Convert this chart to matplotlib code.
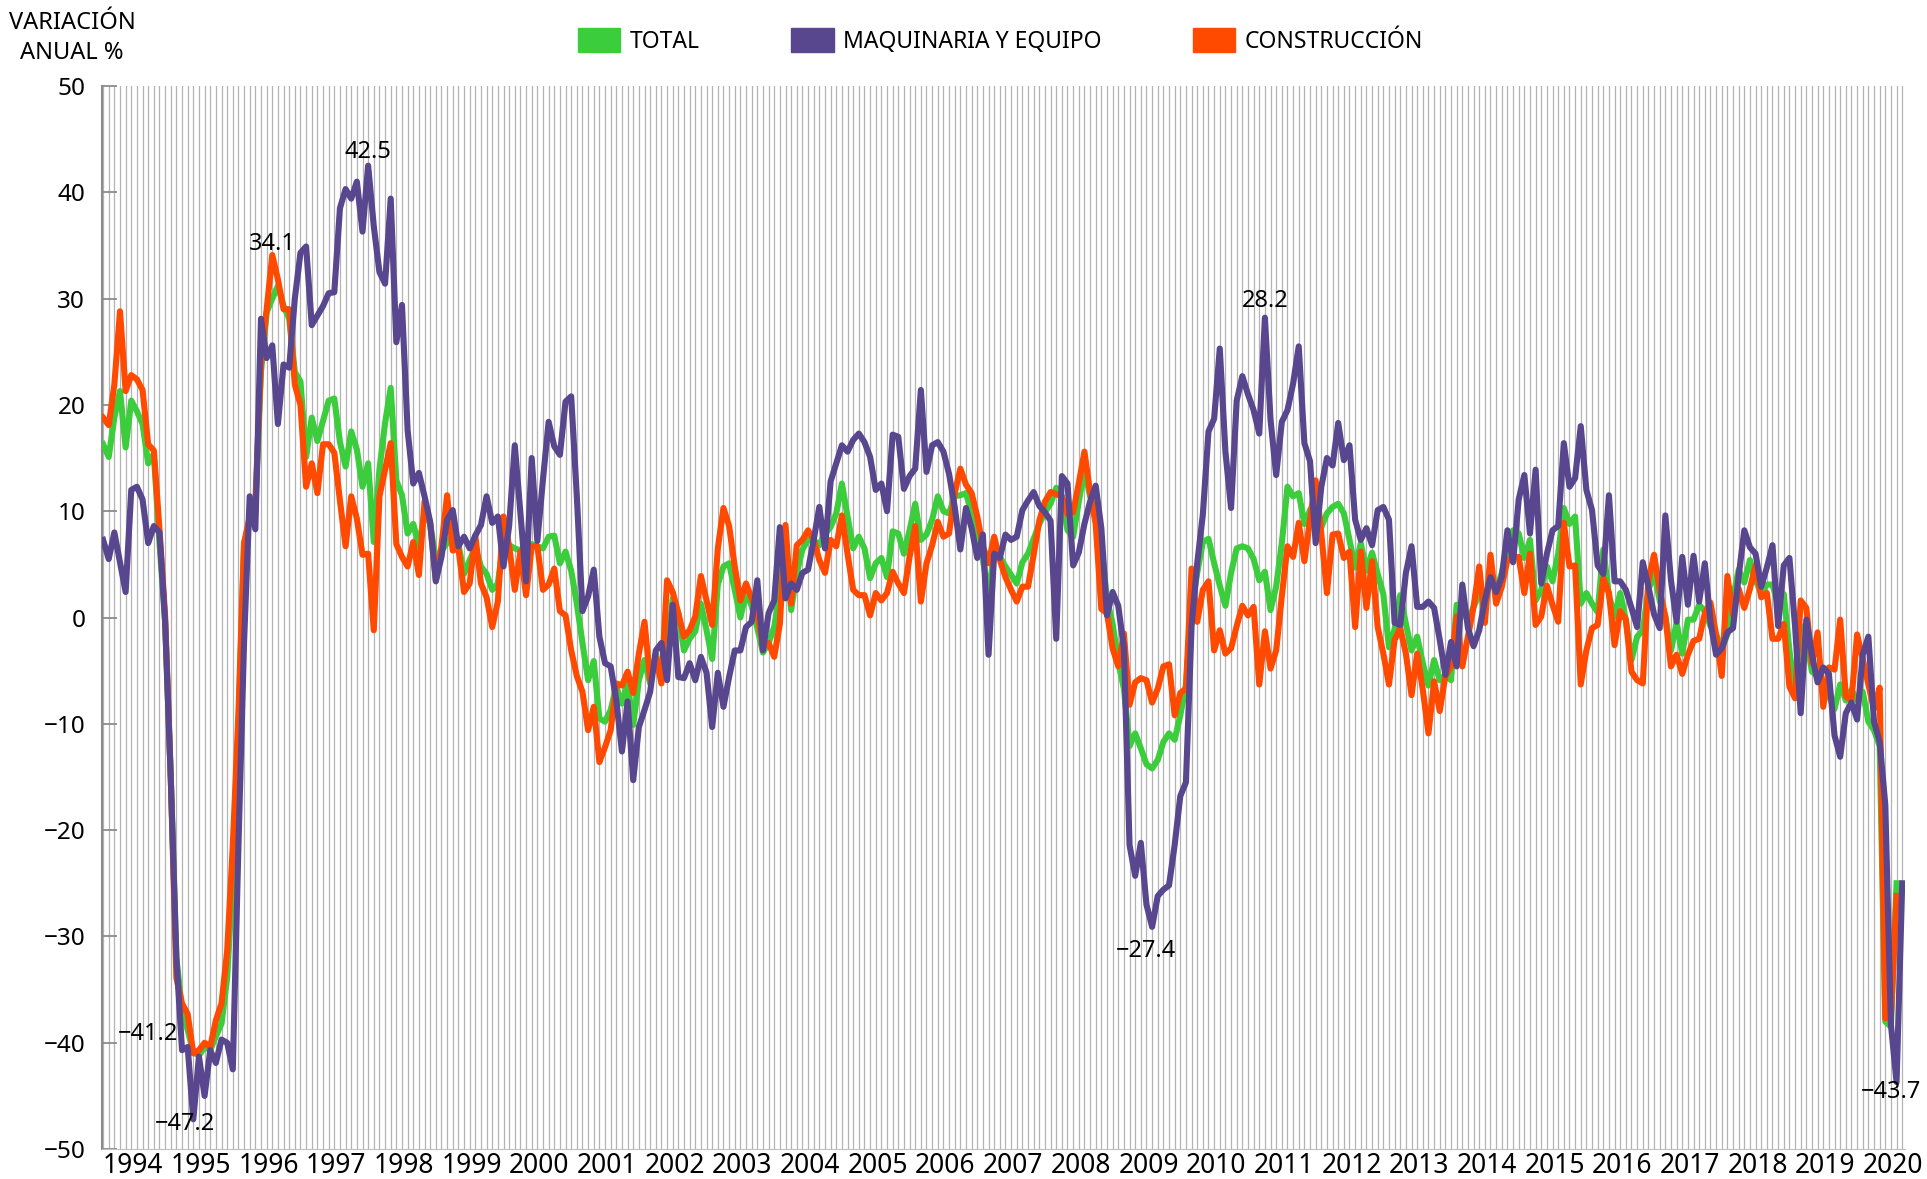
import numpy as np
import matplotlib.pyplot as plt
from matplotlib.patches import Patch

# monthly annual % change, Jan 1994 onwards (one row per year)
years = list(range(1994, 2021))

total = [
    16.3, 15.1, 18.8, 21.3, 16.0, 20.4, 19.4, 18.2, 14.5, 15.4, 7.0, -0.4,
    -15.0, -32.0, -37.0, -38.8, -40.9, -41.2, -40.4, -40.7, -39.4, -38.2, -33.9, -24.6,
    -10.3, 7.0, 8.9, 10.1, 23.1, 28.7, 30.0, 31.2, 29.3, 28.1, 23.1, 22.2,
    15.1, 18.8, 16.6, 18.5, 20.4, 20.6, 16.5, 14.2, 17.5, 15.8, 12.3, 14.5,
    7.1, 13.9, 18.3, 21.6, 12.9, 11.5, 7.9, 8.8, 6.7, 9.8, 8.8, 5.4,
    6.3, 7.0, 7.7, 6.9, 4.1, 5.4, 6.6, 4.8, 4.1, 2.6, 3.2, 7.3,
    6.8, 6.5, 6.3, 6.9, 6.9, 6.7, 6.5, 7.6, 7.7, 5.1, 6.2, 4.4,
    1.3, -2.4, -5.9, -4.1, -9.5, -9.8, -8.7, -6.5, -8.1, -6.2, -10.1, -5.9,
    -4.0, -6.2, -3.4, -5.6, -3.1, 1.8, 0.4, -3.1, -2.0, -1.3, 1.3, -1.2,
    -3.9, 3.1, 4.8, 5.1, 2.6, 0.0, 2.3, 1.1, -1.0, -3.3, -2.4, -0.9,
    2.6, 7.0, 0.7, 4.2, 6.4, 7.3, 7.3, 6.8, 7.9, 8.5, 9.8, 12.6,
    9.5, 6.5, 7.6, 6.5, 3.7, 5.1, 5.6, 3.8, 8.1, 7.9, 6.0, 8.2,
    10.7, 7.3, 7.8, 9.2, 11.4, 10.0, 9.8, 11.4, 11.5, 11.7, 9.8, 7.9,
    5.4, 2.3, 5.9, 5.7, 4.8, 4.0, 3.2, 5.2, 6.0, 7.4, 8.8, 9.9,
    10.7, 12.2, 11.4, 8.2, 7.6, 10.9, 13.9, 11.4, 10.1, 6.8, 1.7, -0.6,
    -4.2, -6.7, -12.1, -10.9, -12.3, -13.8, -14.2, -13.4, -11.7, -10.9, -11.5, -9.2,
    -6.3, 0.8, 4.2, 7.1, 7.4, 5.1, 3.0, 1.1, 4.2, 6.5, 6.7, 6.5,
    5.5, 3.5, 4.3, 0.7, 2.9, 7.0, 12.3, 11.4, 11.7, 8.8, 10.1, 11.0,
    8.5, 9.8, 10.4, 10.7, 9.8, 7.3, 4.7, 7.0, 4.4, 6.1, 4.1, 2.2,
    -2.8, -1.1, 2.1, -0.6, -3.1, -1.8, -4.3, -6.4, -4.0, -5.9, -5.4, -5.9,
    1.2, 0.9, -0.4, 1.0, 2.2, 1.5, 3.5, 2.6, 4.2, 6.4, 8.2, 7.9,
    5.6, 7.3, 1.6, 2.6, 4.8, 3.4, 6.0, 10.3, 8.8, 9.5, 1.3, 2.3,
    1.3, 0.5, 6.4, 2.1, 0.1, 2.3, -0.2, -4.0, -1.8, -1.2, 2.6, 4.2,
    1.6, 0.1, -3.1, -0.5, -3.4, -0.2, -0.2, 1.2, 0.6, -0.8, -1.6, -2.9,
    -1.6, 1.9, 4.5, 3.3, 5.4, 3.5, 2.3, 3.1, 3.1, 1.2, 2.2, -3.1,
    -7.0, -0.8, -2.0, -5.1, -5.5, -6.5, -7.4, -8.6, -6.3, -7.8, -6.8, -7.8,
    -7.0, -9.8, -10.6, -12.1, -38.0, -38.5, -25.0, np.nan,
]

maquinaria = [
    7.3, 5.5, 8.0, 5.2, 2.4, 12.0, 12.3, 11.1, 7.0, 8.6, 8.0, -0.4,
    -15.0, -32.0, -40.7, -40.4, -47.2, -41.3, -45.0, -40.7, -41.9, -39.7, -40.0, -42.5,
    -21.5, -2.3, 11.4, 8.3, 28.1, 24.4, 25.6, 18.2, 23.8, 23.5, 30.0, 34.3,
    34.9, 27.5, 28.4, 29.3, 30.5, 30.6, 38.5, 40.3, 39.4, 41.0, 36.3, 42.5,
    36.8, 32.5, 31.4, 39.4, 25.9, 29.4, 17.6, 12.6, 13.6, 11.4, 9.0, 3.4,
    5.7, 9.2, 10.1, 6.7, 7.6, 6.5, 7.7, 8.7, 11.4, 8.9, 9.5, 4.8,
    8.6, 16.2, 9.8, 3.4, 15.0, 7.2, 13.0, 18.4, 16.1, 15.3, 20.3, 20.8,
    11.4, 0.6, 2.0, 4.5, -1.8, -4.3, -4.6, -7.8, -12.6, -7.9, -15.3, -10.3,
    -8.7, -7.0, -3.1, -2.4, -5.9, 1.2, -5.6, -5.7, -4.3, -5.9, -3.7, -5.2,
    -10.3, -5.2, -8.4, -5.6, -3.1, -3.1, -0.9, -0.4, 3.5, -3.1, 0.4, 1.6,
    8.5, 1.8, 3.2, 2.6, 4.2, 4.5, 7.3, 10.4, 6.5, 12.8, 14.5, 16.2,
    15.6, 16.7, 17.3, 16.5, 15.1, 12.0, 12.6, 10.0, 17.2, 17.0, 12.1, 13.3,
    14.0, 21.4, 13.7, 16.2, 16.5, 15.6, 13.5, 10.4, 6.4, 10.3, 8.4, 5.6,
    7.8, -3.5, 6.0, 5.6, 7.8, 7.3, 7.6, 10.1, 11.0, 11.8, 10.5, 9.9,
    9.1, -2.0, 13.3, 12.6, 4.9, 6.1, 8.8, 10.9, 12.4, 8.4, 0.2, 2.4,
    1.1, -2.9, -21.4, -24.3, -21.2, -27.0, -29.1, -26.2, -25.6, -25.2, -21.4, -16.8,
    -15.5, -0.8, 5.1, 9.7, 17.5, 18.7, 25.3, 15.6, 10.3, 20.4, 22.7, 21.0,
    19.5, 17.3, 28.2, 18.6, 13.4, 18.4, 19.5, 22.0, 25.5, 16.4, 14.7, 7.0,
    12.3, 15.0, 14.3, 18.3, 14.8, 16.2, 9.2, 7.3, 8.4, 6.8, 10.1, 10.4,
    9.2, -0.5, -0.7, 4.2, 6.7, 1.0, 1.0, 1.5, 0.9, -2.1, -5.4, -2.3,
    -4.6, 3.1, -1.0, -2.7, -1.2, 1.6, 3.8, 2.4, 3.8, 8.2, 5.2, 11.1,
    13.4, 7.9, 13.9, 3.2, 6.0, 8.2, 8.6, 16.4, 12.3, 13.1, 18.0, 12.0,
    10.1, 4.9, 4.1, 11.5, 3.4, 3.4, 2.6, 0.9, -0.9, 5.2, 2.9, 0.3,
    -1.0, 9.6, 3.5, -0.4, 5.7, 1.2, 5.8, 1.5, 5.1, -0.4, -3.5, -2.9,
    -1.4, -1.0, 3.9, 8.2, 6.6, 6.0, 2.9, 4.7, 6.8, -0.8, 4.9, 5.6,
    -0.8, -9.0, -0.2, -3.5, -6.1, -4.7, -5.3, -11.1, -13.1, -9.0, -8.0, -9.6,
    -3.5, -1.8, -9.8, -11.7, -17.6, -38.3, -43.7, -25.0,
]

construccion = [
    18.8, 18.1, 21.9, 28.8, 21.3, 22.8, 22.4, 21.4, 16.3, 15.7, 8.3, 0.2,
    -15.0, -33.9, -36.3, -37.3, -41.0, -40.7, -40.0, -40.4, -37.9, -36.3, -31.4, -21.5,
    -9.1, 7.0, 9.5, 10.8, 23.8, 29.0, 34.1, 31.8, 29.0, 29.0, 21.9, 20.0,
    12.3, 14.5, 11.7, 16.3, 16.3, 15.5, 11.0, 6.7, 11.4, 9.3, 5.9, 6.0,
    -1.2, 11.4, 13.9, 16.4, 6.9, 5.7, 4.8, 7.1, 4.0, 10.9, 8.8, 3.5,
    6.7, 11.5, 6.3, 6.5, 2.4, 3.2, 7.7, 3.2, 1.9, -0.9, 1.5, 9.5,
    6.7, 2.6, 6.2, 2.1, 6.7, 6.7, 2.6, 3.1, 4.6, 0.6, 0.2, -3.1,
    -5.5, -7.0, -10.6, -8.4, -13.6, -12.2, -10.6, -6.2, -6.4, -5.1, -7.1, -3.4,
    -0.4, -5.9, -3.7, -6.2, 3.5, 2.4, 0.4, -1.8, -1.2, 0.1, 3.9, 1.6,
    -0.7, 6.5, 10.3, 8.6, 4.8, 1.6, 3.2, 1.8, 0.4, -2.8, -2.4, -3.7,
    -0.6, 8.7, 1.3, 6.8, 7.3, 8.2, 7.3, 5.4, 4.2, 7.3, 6.7, 9.6,
    6.0, 2.6, 2.1, 2.1, 0.2, 2.3, 1.6, 2.3, 4.3, 3.2, 2.3, 5.7,
    8.6, 1.5, 5.1, 6.8, 9.0, 7.6, 7.9, 11.7, 14.0, 12.5, 11.7, 9.5,
    6.7, 5.1, 7.6, 5.4, 3.8, 2.6, 1.5, 2.9, 2.9, 5.9, 9.1, 10.9,
    11.8, 11.6, 11.4, 9.7, 9.9, 12.6, 15.6, 11.8, 8.8, 0.8, 0.4, -2.9,
    -4.6, -1.5, -8.2, -6.1, -5.7, -5.9, -8.0, -6.7, -4.6, -4.4, -9.2, -7.1,
    -6.7, 4.6, -0.4, 2.6, 3.4, -3.1, -1.2, -3.4, -2.9, -0.8, 1.1, 0.2,
    1.0, -6.3, -1.3, -4.8, -3.1, 2.0, 6.7, 5.7, 8.9, 5.3, 9.2, 12.9,
    7.9, 2.3, 7.8, 7.9, 5.6, 6.2, -0.9, 6.2, 0.9, 5.3, -0.9, -3.4,
    -6.3, -2.1, -1.0, -3.4, -7.3, -3.4, -6.8, -10.9, -6.0, -8.8, -5.5, -4.6,
    0.1, -4.6, -1.8, 1.0, 4.8, -0.5, 5.9, 1.3, 2.9, 5.4, 5.7, 5.7,
    2.3, 6.0, -0.7, 0.1, 3.0, 1.2, -0.4, 8.9, 4.8, 4.9, -6.3, -3.1,
    -1.0, -0.7, 3.7, 2.3, -2.6, 0.6, -0.2, -5.1, -5.9, -6.2, 3.5, 5.9,
    2.6, 0.1, -4.6, -3.5, -5.3, -3.5, -2.2, -2.0, 0.4, 1.4, -1.6, -5.5,
    3.9, 0.2, 2.7, 0.9, 2.7, 4.9, 1.9, 2.3, -2.0, -2.0, -0.6, -6.5,
    -7.6, 1.6, 0.9, -4.3, -1.4, -8.4, -4.7, -4.9, -0.2, -7.4, -7.8, -1.6,
    -3.9, -6.3, -8.6, -6.6, -37.7, -37.5, -26.2, np.nan,
]

# labelled extremes: (month index, y position, text)
notes = [
    (30, 35.1, '34.1'),
    (47, 43.8, '42.5'),
    (206, 29.8, '28.2'),
    (8, -39.2, '−41.2'),
    (14.5, -47.6, '−47.2'),
    (185, -31.4, '−27.4'),
    (317, -44.6, '−43.7'),
]

c_total = '#3ccd3c'
c_maq = '#58468f'
c_cons = '#ff4a00'

plt.rcParams['font.family'] = ['Noto Sans', 'DejaVu Sans']
cond = dict(family=['Noto Sans', 'DejaVu Sans'], stretch='condensed')

fig = plt.figure(figsize=(19.27, 11.79), dpi=100)
ax = fig.add_axes([0.0529, 0.0254, 0.9357, 0.9017])

months = np.arange(len(maquinaria))

ax.plot(months, total, color=c_total, lw=4.4, zorder=3)
ax.plot(months, construccion, color=c_cons, lw=4.4, zorder=4)
ax.plot(months, maquinaria, color=c_maq, lw=4.4, zorder=5)

for x, y, s in notes:
    ax.text(x, y, s, ha='center', va='center', fontsize=17, zorder=6, **cond)

ax.set_xlim(-0.2, 319.5)
ax.set_ylim(-50, 50)

# month grid
ax.set_xticks(months, minor=True)
ax.set_xticks(np.arange(0, len(months), 12))
ax.set_xticklabels([str(y) for y in years], ha='left', fontstretch='condensed')
ax.grid(which='both', axis='x', color='#b3b3b3', lw=0.9, zorder=1)
ax.tick_params(axis='x', which='both', length=0, labelsize=19, pad=2)

ax.set_yticks(range(-50, 51, 10))
ax.set_yticklabels([str(v).replace('-', '−') for v in range(-50, 51, 10)],
                   fontstretch='condensed')
ax.tick_params(axis='y', direction='in', length=11, width=1.3, color='#8c8c8c',
               labelsize=17.5, pad=12)

for side in ['top', 'right']:
    ax.spines[side].set_visible(False)
ax.spines['left'].set_color('#8c8c8c')
ax.spines['left'].set_linewidth(1.5)
ax.spines['bottom'].set_color('#c0c0c0')

handles = [Patch(color=c_total), Patch(color=c_maq), Patch(color=c_cons)]
leg = fig.legend(handles, ['TOTAL', 'MAQUINARIA Y EQUIPO', 'CONSTRUCCIÓN'],
                 loc='center left', bbox_to_anchor=(578 / 1927, 1 - 41 / 1179),
                 ncol=3, frameon=False, fontsize=16.5, handlelength=1.85,
                 handleheight=1.25, handletextpad=0.4, columnspacing=4.0,
                 borderpad=0, borderaxespad=0)
for t in leg.get_texts():
    t.set_fontstretch('condensed')

fig.text(72 / 1927, 1 - 38 / 1179, 'VARIACIÓN\nANUAL %', ha='center',
         va='center', fontsize=17, linespacing=1.3, **cond)

fig.savefig('out.png', dpi=100)
